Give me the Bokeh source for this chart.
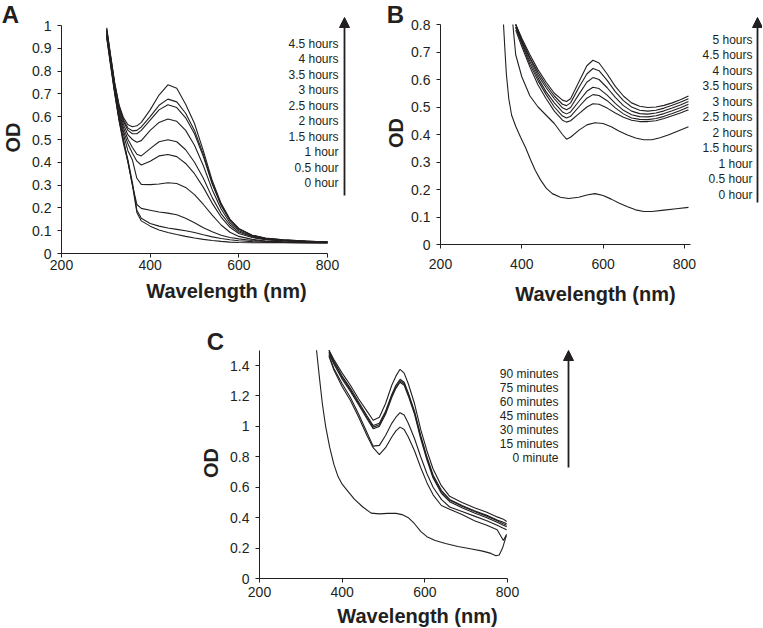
import math
from bokeh.plotting import figure
from bokeh.models import FixedTicker, Arrow, NormalHead, Range1d
from bokeh.layouts import column, row
from bokeh.core.properties import value
from bokeh.embed import file_html
from bokeh.resources import INLINE

INK = "#231f20"
FONT = "Liberation Sans"

# ---------------- Panel A data ----------------
A_WL = [302, 310, 320, 330, 340, 350, 360, 370, 380, 400, 420, 440, 460, 480,
        500, 520, 540, 560, 580, 600, 630, 660, 700, 750, 800]
a_0h = [0.945, 0.835, 0.70, 0.58, 0.48, 0.40, 0.30, 0.18, 0.143, 0.12, 0.103, 0.092, 0.083, 0.075,
        0.068, 0.062, 0.057, 0.053, 0.05, 0.048, 0.047, 0.047, 0.047, 0.046, 0.046]
a_05h = [0.95, 0.84, 0.705, 0.585, 0.49, 0.41, 0.31, 0.19, 0.155, 0.132, 0.12, 0.112, 0.106, 0.10,
         0.092, 0.082, 0.073, 0.066, 0.06, 0.056, 0.052, 0.05, 0.048, 0.047, 0.046]
a_1h = [0.955, 0.845, 0.71, 0.59, 0.50, 0.40, 0.30, 0.215, 0.198, 0.19, 0.182, 0.177, 0.17, 0.155,
        0.135, 0.113, 0.095, 0.08, 0.07, 0.064, 0.057, 0.053, 0.05, 0.048, 0.047]
a_15h = [0.96, 0.85, 0.72, 0.60, 0.52, 0.45, 0.41, 0.33, 0.303, 0.302, 0.305, 0.31, 0.307, 0.29,
         0.258, 0.215, 0.168, 0.125, 0.093, 0.075, 0.062, 0.055, 0.051, 0.049, 0.048]
a_2h = [0.965, 0.855, 0.725, 0.61, 0.535, 0.48, 0.44, 0.405, 0.388, 0.405, 0.428, 0.434, 0.425, 0.395,
        0.35, 0.29, 0.22, 0.16, 0.115, 0.088, 0.07, 0.06, 0.055, 0.051, 0.049]
a_25h = [0.97, 0.86, 0.73, 0.62, 0.55, 0.50, 0.465, 0.435, 0.428, 0.46, 0.49, 0.499, 0.49, 0.455,
         0.40, 0.33, 0.245, 0.175, 0.125, 0.094, 0.073, 0.062, 0.056, 0.052, 0.049]
a_3h = [0.975, 0.865, 0.735, 0.63, 0.565, 0.52, 0.50, 0.488, 0.495, 0.54, 0.575, 0.59, 0.58, 0.54,
        0.475, 0.385, 0.28, 0.195, 0.135, 0.10, 0.076, 0.064, 0.058, 0.053, 0.05]
a_35h = [0.98, 0.87, 0.74, 0.64, 0.578, 0.54, 0.525, 0.525, 0.54, 0.585, 0.63, 0.652, 0.64, 0.595,
         0.525, 0.425, 0.305, 0.21, 0.145, 0.106, 0.079, 0.066, 0.059, 0.054, 0.05]
a_4h = [0.985, 0.875, 0.745, 0.645, 0.585, 0.55, 0.538, 0.54, 0.555, 0.60, 0.65, 0.677, 0.665, 0.615,
        0.54, 0.435, 0.31, 0.215, 0.148, 0.108, 0.08, 0.067, 0.06, 0.055, 0.05]
a_45h = [0.99, 0.88, 0.75, 0.65, 0.595, 0.565, 0.556, 0.56, 0.575, 0.63, 0.695, 0.74, 0.725, 0.655,
         0.57, 0.45, 0.32, 0.22, 0.15, 0.11, 0.08, 0.068, 0.06, 0.055, 0.05]
A_SERIES = [a_0h, a_05h, a_1h, a_15h, a_2h, a_25h, a_3h, a_35h, a_4h, a_45h]
A_LEGEND = ["4.5 hours", "4 hours", "3.5 hours", "3 hours", "2.5 hours",
            "2 hours", "1.5 hours", "1 hour", "0.5 hour", "0 hour"]
A_XTICKS = [200, 400, 600, 800]
A_YTICKS = [0, 0.1, 0.2, 0.3, 0.4, 0.5, 0.6, 0.7, 0.8, 0.9, 1]
A_YLABELS = ["0", "0.1", "0.2", "0.3", "0.4", "0.5", "0.6", "0.7", "0.8", "0.9", "1"]

# ---------------- Panel B data ----------------
B_WL = [385, 400, 420, 440, 460, 480, 500, 510, 520, 540, 560, 575, 590, 610,
        630, 650, 670, 690, 710, 730, 750, 770, 790, 810]
b_top1 = [0.80, 0.75, 0.69, 0.635, 0.59, 0.55, 0.525, 0.52, 0.53, 0.59, 0.65, 0.67, 0.66, 0.62,
          0.575, 0.54, 0.515, 0.503, 0.498, 0.50, 0.506, 0.515, 0.526, 0.54]
b_top2 = [0.80, 0.745, 0.68, 0.625, 0.58, 0.54, 0.51, 0.505, 0.515, 0.57, 0.62, 0.64, 0.632, 0.597,
          0.556, 0.523, 0.50, 0.488, 0.485, 0.488, 0.496, 0.506, 0.517, 0.53]
b_top3 = [0.80, 0.74, 0.675, 0.615, 0.57, 0.53, 0.497, 0.49, 0.498, 0.545, 0.59, 0.607, 0.60, 0.57,
          0.535, 0.505, 0.485, 0.476, 0.474, 0.478, 0.486, 0.496, 0.507, 0.52]
b_top4 = [0.79, 0.735, 0.665, 0.605, 0.555, 0.515, 0.482, 0.475, 0.482, 0.52, 0.557, 0.572, 0.567, 0.543,
          0.513, 0.488, 0.472, 0.465, 0.464, 0.468, 0.476, 0.486, 0.497, 0.51]
b_top5 = [0.79, 0.73, 0.655, 0.595, 0.545, 0.50, 0.467, 0.46, 0.466, 0.50, 0.532, 0.545, 0.542, 0.523,
          0.497, 0.475, 0.46, 0.455, 0.454, 0.458, 0.466, 0.476, 0.487, 0.50]
b_top6 = [0.78, 0.72, 0.645, 0.58, 0.53, 0.485, 0.452, 0.445, 0.45, 0.475, 0.50, 0.512, 0.51, 0.496,
          0.478, 0.463, 0.452, 0.447, 0.447, 0.45, 0.458, 0.468, 0.478, 0.49]
B_WL_MID = [378, 385, 400, 420, 440, 460, 480, 500, 510, 520, 540, 560, 580, 600,
            620, 640, 660, 680, 700, 720, 740, 760, 780, 810]
b_mid = [0.80, 0.69, 0.61, 0.54, 0.50, 0.47, 0.44, 0.40, 0.383, 0.39, 0.415, 0.435, 0.443, 0.44,
         0.428, 0.412, 0.398, 0.387, 0.381, 0.381, 0.388, 0.398, 0.41, 0.428]
B_WL_LOW = [355, 358, 362, 368, 375, 385, 397, 410, 421, 433, 446, 460, 475, 495, 515, 540,
            560, 580, 600, 620, 640, 660, 680, 700, 720, 750, 780, 810]
b_low = [0.80, 0.72, 0.62, 0.53, 0.47, 0.43, 0.39, 0.35, 0.31, 0.27, 0.235, 0.205, 0.185, 0.172,
         0.167, 0.172, 0.18, 0.185, 0.178, 0.165, 0.15, 0.137, 0.126, 0.12, 0.12, 0.125, 0.13, 0.135]
B_SERIES = [(B_WL, b_top1), (B_WL, b_top2), (B_WL, b_top3), (B_WL, b_top4), (B_WL, b_top5),
            (B_WL, b_top6), (B_WL_MID, b_mid), (B_WL_LOW, b_low)]
B_LEGEND = ["5 hours", "4.5 hours", "4 hours", "3.5 hours", "3 hours", "2.5 hours",
            "2 hours", "1.5 hours", "1 hour", "0.5 hour", "0 hour"]
B_XTICKS = [200, 400, 600, 800]
B_YTICKS = [0, 0.1, 0.2, 0.3, 0.4, 0.5, 0.6, 0.7, 0.8]
B_YLABELS = ["0", "0.1", "0.2", "0.3", "0.4", "0.5", "0.6", "0.7", "0.8"]

# ---------------- Panel C data ----------------
C_WL = [368, 380, 400, 420, 440, 460, 475, 490, 505, 520, 530, 540, 550, 560,
        575, 590, 605, 620, 640, 660, 690, 720, 750, 775, 790, 798]
c_90 = [1.50, 1.44, 1.35, 1.27, 1.18, 1.10, 1.04, 1.06, 1.15, 1.27, 1.33, 1.375, 1.35, 1.28,
        1.15, 0.98, 0.84, 0.72, 0.61, 0.54, 0.50, 0.465, 0.435, 0.405, 0.39, 0.375]
c_75 = [1.50, 1.43, 1.33, 1.25, 1.16, 1.07, 1.005, 1.02, 1.10, 1.21, 1.27, 1.31, 1.29, 1.22,
        1.10, 0.94, 0.80, 0.68, 0.58, 0.52, 0.48, 0.445, 0.415, 0.385, 0.37, 0.36]
c_60 = [1.49, 1.42, 1.32, 1.24, 1.15, 1.06, 0.995, 1.01, 1.09, 1.20, 1.26, 1.30, 1.28, 1.21,
        1.09, 0.93, 0.79, 0.67, 0.57, 0.515, 0.475, 0.44, 0.41, 0.38, 0.36, 0.35]
c_45 = [1.48, 1.41, 1.31, 1.23, 1.14, 1.05, 0.985, 1.00, 1.08, 1.19, 1.25, 1.29, 1.27, 1.20,
        1.08, 0.92, 0.78, 0.66, 0.56, 0.505, 0.465, 0.43, 0.40, 0.37, 0.35, 0.34]
c_30 = [1.47, 1.38, 1.28, 1.19, 1.08, 0.96, 0.87, 0.875, 0.94, 1.02, 1.06, 1.09, 1.075, 1.02,
        0.92, 0.80, 0.69, 0.60, 0.52, 0.47, 0.44, 0.41, 0.38, 0.35, 0.33, 0.32]
c_15 = [1.46, 1.37, 1.26, 1.17, 1.06, 0.94, 0.86, 0.815, 0.86, 0.93, 0.97, 0.995, 0.98, 0.93,
        0.84, 0.73, 0.63, 0.55, 0.48, 0.455, 0.42, 0.38, 0.35, 0.32, 0.25, 0.29]
C_WL_0 = [338, 345, 352, 360, 370, 380, 390, 400, 415, 430, 450, 470, 490, 510, 530, 545,
          560, 575, 590, 605, 625, 650, 680, 710, 740, 760, 772, 780, 788, 797]
c_0 = [1.50, 1.32, 1.15, 1.00, 0.86, 0.75, 0.67, 0.62, 0.57, 0.52, 0.47, 0.43, 0.425, 0.428,
       0.428, 0.42, 0.40, 0.36, 0.31, 0.275, 0.25, 0.23, 0.21, 0.195, 0.18, 0.165, 0.15, 0.155, 0.20, 0.28]
C_SERIES = [(C_WL, c_90), (C_WL, c_75), (C_WL, c_60), (C_WL, c_45), (C_WL, c_30),
            (C_WL, c_15), (C_WL_0, c_0)]
C_LEGEND = ["90 minutes", "75 minutes", "60 minutes", "45 minutes",
            "30 minutes", "15 minutes", "0 minute"]
C_XTICKS = [200, 400, 600, 800]
C_YTICKS = [0, 0.2, 0.4, 0.6, 0.8, 1, 1.2, 1.4]
C_YLABELS = ["0", "0.2", "0.4", "0.6", "0.8", "1", "1.2", "1.4"]

XLABEL = "Wavelength (nm)"
YLABEL = "OD"


class Geo:
    """Pixel geometry of one main plot (picture pixels)."""
    def __init__(self, left_px, bottom_px, px_per_x, px_per_y, x0=200.0, y0=0.0):
        self.left_px, self.bottom_px = left_px, bottom_px
        self.ppx, self.ppy = px_per_x, px_per_y
        self.x0, self.y0 = x0, y0

    def x(self, px):
        return self.x0 + (px - self.left_px) / self.ppx

    def y(self, py):
        return self.y0 + (self.bottom_px - py) / self.ppy


def make_main(fw, fh, left, top, bottom, geo, xbounds, ybounds, xticks, yticks, ylabels, xstand):
    xr = Range1d(geo.x0, geo.x0 + fw / geo.ppx)
    yr = Range1d(geo.y0, geo.y0 + fh / geo.ppy)
    p = figure(frame_width=fw, frame_height=fh, x_range=xr, y_range=yr, title=None,
               output_backend="svg", toolbar_location=None,
               min_border_left=left, min_border_right=0,
               min_border_top=top, min_border_bottom=bottom)
    p.outline_line_color = None
    p.xgrid.visible = False
    p.ygrid.visible = False
    p.xaxis.ticker = FixedTicker(ticks=xticks)
    p.yaxis.ticker = FixedTicker(ticks=yticks)
    p.yaxis.major_label_overrides = {t: s for t, s in zip(yticks, ylabels)}
    p.xaxis.bounds = xbounds
    p.yaxis.bounds = ybounds
    for ax in (p.xaxis, p.yaxis):
        ax.axis_line_color = INK
        ax.major_tick_line_color = INK
        ax.major_tick_out = 4
        ax.major_tick_in = 0
        ax.minor_tick_line_color = None
        ax.major_label_text_font = FONT
        ax.major_label_text_font_size = "14px"
        ax.major_label_text_color = INK
    p.xaxis.major_label_standoff = xstand
    p.yaxis.major_label_standoff = 6
    return p


def make_strip(w, h):
    s = figure(frame_width=w, frame_height=h, x_range=Range1d(0, w), y_range=Range1d(0, h),
               title=None, x_axis_type=None, y_axis_type=None, output_backend="svg",
               toolbar_location=None, min_border_left=0, min_border_right=0,
               min_border_top=0, min_border_bottom=0)
    s.outline_line_color = None
    return s


def strip_text(s, x, y_from_top, txt, size, bold=True, angle=0.0, align="center"):
    s.text(x=[x], y=[s.y_range.end - y_from_top], text=[txt], angle=angle,
           text_font=value(FONT), text_font_size=value(size),
           text_font_style=value("bold" if bold else "normal"),
           text_align=value(align), text_baseline=value("middle"), text_color=INK)


def legend_and_arrow(p, geo, labels, right_px, top_px, step_px, arrow_x, arrow_y0, arrow_y1):
    ys = [geo.y(top_px + i * step_px) for i in range(len(labels))]
    p.text(x=[geo.x(right_px)] * len(labels), y=ys, text=labels,
           text_font=value(FONT), text_font_size=value("12px"), text_color=INK,
           text_align=value("right"), text_baseline=value("middle"))
    p.add_layout(Arrow(end=NormalHead(size=10, fill_color=INK, line_color=INK, line_width=1),
                       x_start=geo.x(arrow_x), y_start=geo.y(arrow_y0),
                       x_end=geo.x(arrow_x), y_end=geo.y(arrow_y1),
                       line_color=INK, line_width=1.8))


# ================= Panel A =================
# picture x: strip 0-29 | axis 29-61 | frame 61-350 ; y: frame 10-253, ticks to 277, label strip 277-305
geoA = Geo(61, 253, 266 / 600, 228)
mA = make_main(289, 243, 32, 10, 24, geoA, (200, 800), (0, 1), A_XTICKS, A_YTICKS, A_YLABELS, 2)
for ys in A_SERIES:
    mA.line(A_WL, ys, line_color=INK, line_width=1.1)
legend_and_arrow(mA, geoA, A_LEGEND, 338, 43, 15.55, 344, 195, 17)
lA = make_strip(29, 305)
strip_text(lA, 10, 14, "A", "24px")
strip_text(lA, 12.5, 137, YLABEL, "20px", angle=math.pi / 2)
bA = make_strip(321, 28)
strip_text(bA, 165, 13, XLABEL, "20px")

# ================= Panel B =================
# picture x: strip 350-407 | axis 407-440 | frame 440-762 ; y: frame 10-244
geoB = Geo(440, 244, 250 / 615, 275)
mB = make_main(322, 234, 33, 10, 33, geoB, (200, 815), (0, 0.8), B_XTICKS, B_YTICKS, B_YLABELS, 10)
for xs, ys in B_SERIES:
    mB.line(xs, ys, line_color=INK, line_width=1.1)
legend_and_arrow(mB, geoB, B_LEGEND, 752, 39, 15.5, 757, 202, 17)
lB = make_strip(57, 305)
strip_text(lB, 45, 14, "B", "24px")
strip_text(lB, 45.5, 132.5, YLABEL, "20px", angle=math.pi / 2)
bB = make_strip(355, 28)
strip_text(bB, 155, 16, XLABEL, "20px")

# ================= Panel C =================
# picture x: strip 0-225 | axis 225-259 | frame 259-580 ; y (row from 305): frame 344-578
geoC = Geo(259, 578, 248 / 600, 152.14)
mC = make_main(321, 234, 34, 39, 25, geoC, (200, 800), (0, 1.5), C_XTICKS, C_YTICKS, C_YLABELS, 4)
for xs, ys in C_SERIES:
    mC.line(xs, ys, line_color=INK, line_width=1.1)
legend_and_arrow(mC, geoC, C_LEGEND, 558, 373, 14, 568, 467, 350)
lC = make_strip(225, 322)
strip_text(lC, 215, 35.5, "C", "24px")
strip_text(lC, 210, 157.5, YLABEL, "20px", angle=math.pi / 2)
bC = make_strip(355, 24)
strip_text(bC, 158, 12, XLABEL, "20px")

layout = column(
    row(lA, column(mA, bA), lB, column(mB, bB)),
    row(lC, column(mC, bC)),
)
open("out.html", "w").write(file_html(layout, INLINE))
